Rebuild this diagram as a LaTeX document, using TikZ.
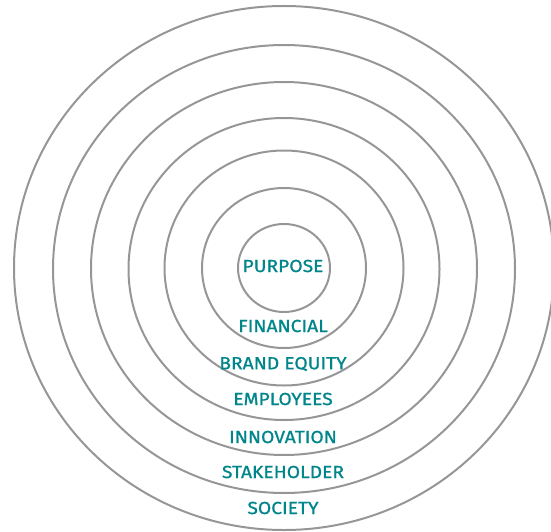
\documentclass[tikz,border=0pt]{standalone}
\usepackage{fontspec}
\setmainfont{Fira Sans}[FakeStretch=1.1,FakeBold=0.9]
\usepackage{tikz}
\definecolor{ringgray}{RGB}{150,150,153}
\definecolor{ringteal}{RGB}{0,133,138}
\newcommand{\tealtext}[1]{{\color{ringteal}{#1}}}

\begin{document}
\begin{tikzpicture}[x=1pt,y=-1pt,font=\fontsize{17.5}{19}\selectfont]
    \useasboundingbox (0,0) rectangle (551,532);
    \draw[ringgray,line width=2pt] (284,268) ellipse [x radius=46pt, y radius=44pt];
    \draw[ringgray,line width=2pt] (284,268) ellipse [x radius=82pt, y radius=80pt];
    \draw[ringgray,line width=2pt] (284,268) ellipse [x radius=119.5pt, y radius=117.5pt];
    \draw[ringgray,line width=2pt] (284,269) ellipse [x radius=155.5pt, y radius=151pt];
    \draw[ringgray,line width=2pt] (284,268.5) ellipse [x radius=193pt, y radius=186.5pt];
    \draw[ringgray,line width=2pt] (284,269) ellipse [x radius=231pt, y radius=224pt];
    \draw[ringgray,line width=2pt] (284,268) ellipse [x radius=270pt, y radius=262pt];

    \node (purpose) at (283,266) {\tealtext{PURPOSE}};
    \node (financial) at (283,326) {\tealtext{FINANCIAL}};
    \node (brand) at (283,364) {\tealtext{BRAND EQUITY}};
    \node (employees) at (283,399) {\tealtext{EMPLOYEES}};
    \node (innovation) at (283,437) {\tealtext{INNOVATION}};
    \node (stakeholder) at (283,472) {\tealtext{STAKEHOLDER}};
    \node (society) at (283,508) {\tealtext{SOCIETY}};
  \end{tikzpicture}
\end{document}
